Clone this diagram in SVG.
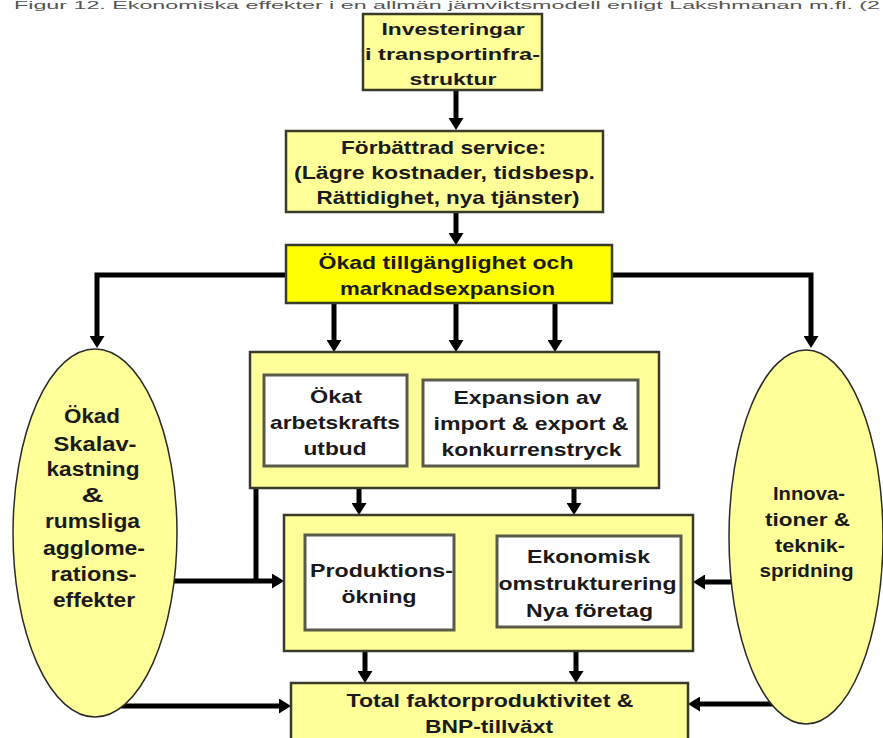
<svg xmlns="http://www.w3.org/2000/svg" width="883" height="738" viewBox="0 0 883 738">
<defs>
<style>
.box{fill:#ffff99;stroke:#3a3a2a;stroke-width:2.5}
.hi{fill:#ffff00}
.inner{fill:#ffffff;stroke:#5a5a48;stroke-width:3}
.ell{fill:#ffff99;stroke:#2a2a2a;stroke-width:1.5}
.t{font-family:"Liberation Sans",Arial,sans-serif;font-weight:bold;font-size:19px;fill:#1a1a1a;text-anchor:middle}
.c{fill:none;stroke:#000;stroke-width:5}
.title{font-family:"Liberation Sans",Arial,sans-serif;font-size:10px;fill:#555}
</style>
<marker id="ah" viewBox="0 0 12 15" markerWidth="12" markerHeight="15" refX="0" refY="7.5" orient="auto" markerUnits="userSpaceOnUse">
<path d="M0,0 L12,7.5 L0,15 z" fill="#000"/>
</marker>
</defs>
<rect width="883" height="738" fill="#ffffff"/>
<text class="title" x="14" y="9" textLength="866" lengthAdjust="spacingAndGlyphs">Figur 12. Ekonomiska effekter i en allmän jämviktsmodell enligt Lakshmanan m.fl. (2</text>

<g id="connectors">
<path class="c" d="M456,90 V118" marker-end="url(#ah)"/>
<path class="c" d="M456,212 V233" marker-end="url(#ah)"/>
<path class="c" d="M286,275 H97 V336" marker-end="url(#ah)"/>
<path class="c" d="M612,275 H811 V336" marker-end="url(#ah)"/>
<path class="c" d="M334,303 V340" marker-end="url(#ah)"/>
<path class="c" d="M456,303 V340" marker-end="url(#ah)"/>
<path class="c" d="M555,303 V340" marker-end="url(#ah)"/>
<path class="c" d="M359,488 V503" marker-end="url(#ah)"/>
<path class="c" d="M574,488 V503" marker-end="url(#ah)"/>
<path class="c" d="M256,488 V581"/>
<path class="c" d="M174,581 H272" marker-end="url(#ah)"/>
<path class="c" d="M497,577 H467" marker-end="url(#ah)"/>
<path class="c" d="M731,582 H705" marker-end="url(#ah)"/>
<path class="c" d="M365,651 V671" marker-end="url(#ah)"/>
<path class="c" d="M576,651 V671" marker-end="url(#ah)"/>
<path class="c" d="M121,706 H279" marker-end="url(#ah)"/>
<path class="c" d="M773,704 H700" marker-end="url(#ah)"/>
</g>

<g id="investeringar">
<rect class="box" x="363" y="14" width="179" height="76"/>
<text class="t" x="453" y="35" textLength="143" lengthAdjust="spacingAndGlyphs" style="font-size:17px">Investeringar</text>
<text class="t" x="452.5" y="60" textLength="175" lengthAdjust="spacingAndGlyphs" style="font-size:17px">i transportinfra-</text>
<text class="t" x="453" y="85" textLength="87" lengthAdjust="spacingAndGlyphs" style="font-size:17px">struktur</text>
</g>

<g id="service">
<rect class="box" x="286" y="131" width="317" height="81"/>
<text class="t" x="443.5" y="154" textLength="205" lengthAdjust="spacingAndGlyphs">Förbättrad service:</text>
<text class="t" x="444.5" y="179" textLength="301" lengthAdjust="spacingAndGlyphs">(Lägre kostnader, tidsbesp.</text>
<text class="t" x="448" y="204" textLength="263" lengthAdjust="spacingAndGlyphs">Rättidighet, nya tjänster)</text>
</g>

<g id="tillganglighet">
<rect class="box hi" x="286" y="245" width="326" height="58"/>
<text class="t" x="446" y="269" textLength="255" lengthAdjust="spacingAndGlyphs">Ökad tillgänglighet och</text>
<text class="t" x="447.5" y="295" textLength="215" lengthAdjust="spacingAndGlyphs">marknadsexpansion</text>
</g>

<g id="upper-group">
<rect class="box" x="250" y="352" width="409" height="136"/>
<g id="arbetskraft">
<rect class="inner" x="264" y="375" width="143" height="91"/>
<text class="t" x="336" y="403" textLength="52" lengthAdjust="spacingAndGlyphs">Ökat</text>
<text class="t" x="335" y="429" textLength="130" lengthAdjust="spacingAndGlyphs">arbetskrafts</text>
<text class="t" x="335" y="455" textLength="63" lengthAdjust="spacingAndGlyphs">utbud</text>
</g>
<g id="expansion">
<rect class="inner" x="423" y="380" width="215" height="86"/>
<text class="t" x="527.5" y="404" textLength="148" lengthAdjust="spacingAndGlyphs">Expansion av</text>
<text class="t" x="531" y="430" textLength="195" lengthAdjust="spacingAndGlyphs">import &amp; export &amp;</text>
<text class="t" x="531.5" y="456" textLength="180" lengthAdjust="spacingAndGlyphs">konkurrenstryck</text>
</g>
</g>

<g id="middle-group">
<rect class="box" x="284" y="515" width="409" height="136"/>
<g id="produktion">
<rect class="inner" x="305" y="535" width="149" height="95"/>
<text class="t" x="381.5" y="577" textLength="143" lengthAdjust="spacingAndGlyphs">Produktions-</text>
<text class="t" x="379" y="603" textLength="75" lengthAdjust="spacingAndGlyphs">ökning</text>
</g>
<g id="omstrukturering">
<rect class="inner" x="497" y="536" width="184" height="91"/>
<text class="t" x="588.5" y="563" textLength="123" lengthAdjust="spacingAndGlyphs">Ekonomisk</text>
<text class="t" x="587.5" y="590" textLength="178" lengthAdjust="spacingAndGlyphs">omstrukturering</text>
<text class="t" x="589.5" y="617" textLength="127" lengthAdjust="spacingAndGlyphs">Nya företag</text>
</g>
</g>

<g id="tfp">
<rect class="box" x="291" y="683" width="397" height="70"/>
<text class="t" x="490" y="707" textLength="287" lengthAdjust="spacingAndGlyphs">Total faktorproduktivitet &amp;</text>
<text class="t" x="489" y="733" textLength="128" lengthAdjust="spacingAndGlyphs">BNP-tillväxt</text>
</g>

<g id="skalavkastning">
<ellipse class="ell" cx="95" cy="533" rx="82" ry="184"/>
<text class="t" x="92" y="423" textLength="56" lengthAdjust="spacingAndGlyphs" style="font-size:20px">Ökad</text>
<text class="t" x="95" y="451" textLength="83" lengthAdjust="spacingAndGlyphs" style="font-size:20px">Skalav-</text>
<text class="t" x="93" y="476" textLength="93" lengthAdjust="spacingAndGlyphs" style="font-size:20px">kastning</text>
<text class="t" x="92.5" y="502" textLength="22" lengthAdjust="spacingAndGlyphs" style="font-size:20px">&amp;</text>
<text class="t" x="92.5" y="528" textLength="95" lengthAdjust="spacingAndGlyphs" style="font-size:20px">rumsliga</text>
<text class="t" x="94" y="555" textLength="102" lengthAdjust="spacingAndGlyphs" style="font-size:20px">agglome-</text>
<text class="t" x="93.5" y="581" textLength="86" lengthAdjust="spacingAndGlyphs" style="font-size:20px">rations-</text>
<text class="t" x="94" y="607" textLength="82" lengthAdjust="spacingAndGlyphs" style="font-size:20px">effekter</text>
</g>

<g id="innovationer">
<ellipse class="ell" cx="806" cy="537" rx="77" ry="187"/>
<text class="t" x="809" y="500" textLength="72" lengthAdjust="spacingAndGlyphs" style="font-size:18px">Innova-</text>
<text class="t" x="807.5" y="526" textLength="85" lengthAdjust="spacingAndGlyphs" style="font-size:18px">tioner &amp;</text>
<text class="t" x="810" y="552" textLength="70" lengthAdjust="spacingAndGlyphs" style="font-size:18px">teknik-</text>
<text class="t" x="806.5" y="577" textLength="94" lengthAdjust="spacingAndGlyphs" style="font-size:18px">spridning</text>
</g>
</svg>
